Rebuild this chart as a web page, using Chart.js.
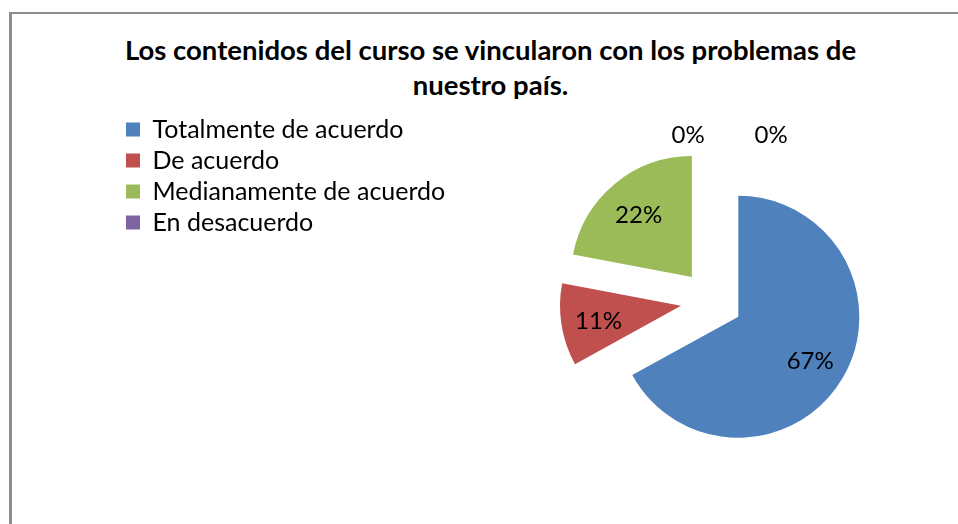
<!DOCTYPE html>
<html lang="es">
<head>
<meta charset="utf-8">
<title>Contenidos del curso</title>
<script src="https://cdn.jsdelivr.net/npm/chart.js@4.4.1/dist/chart.umd.min.js"></script>
<style>
  html, body { margin: 0; padding: 0; overflow: hidden; background: #fff; }
  body { width: 958px; height: 524px; position: relative; }
  /* marco gris del gráfico, cortado a la derecha y abajo */
  #marco {
    position: absolute; left: 9px; top: 12px; width: 1000px; height: 600px;
    border-left: 3px solid #8c8c8c; border-top: 2px solid #8c8c8c;
  }
  #titulo {
    position: absolute; left: 0; top: 32px; width: 981px;
    text-align: center; font: bold 27.5px Lato, sans-serif; line-height: 35px; color: #000;
  }
  #lienzo { position: absolute; left: 0; top: 0; }
</style>
</head>
<body>
<div id="marco"></div>
<div id="titulo">Los contenidos del curso se vincularon con los problemas de<br>nuestro país.</div>
<canvas id="lienzo" width="1010" height="524"></canvas>
<script>
"use strict";

const categorias = [
  "Totalmente de acuerdo",
  "De acuerdo",
  "Medianamente de acuerdo",
  "En desacuerdo",
  "Totalmente en desacuerdo",
];
const porcentajes = [67, 11, 22, 0, 0];
const colores = ["#4F81BD", "#C0504D", "#9BBB59", "#8064A2", "#4BACC6"];

// solo los cuatro primeros rubros salen en la leyenda
const enLeyenda = 4;

// cuánto se separa cada porción del centro (px)
const separacion = 31;

// Desplaza cada porción hacia afuera según su ángulo medio
const explotarPorciones = {
  id: "explotarPorciones",
  afterDatasetUpdate(chart, args) {
    args.meta.data.forEach((arco) => {
      const medio = (arco.startAngle + arco.endAngle) / 2;
      arco.x += Math.cos(medio) * separacion;
      arco.y += Math.sin(medio) * separacion;
    });
  },
};

// Porcentajes encima de cada porción
const etiquetas = {
  id: "etiquetas",
  afterDatasetsDraw(chart) {
    const ctx = chart.ctx;
    const meta = chart.getDatasetMeta(0);
    ctx.save();
    ctx.font = "24px Lato";
    ctx.fillStyle = "#000";
    ctx.textAlign = "center";
    ctx.textBaseline = "middle";
    let ceros = 0;
    meta.data.forEach((arco, i) => {
      const valor = porcentajes[i];
      const medio = (arco.startAngle + arco.endAngle) / 2;
      let x, y;
      if (valor > 0) {
        x = arco.x + Math.cos(medio) * arco.outerRadius * 0.69;
        y = arco.y + Math.sin(medio) * arco.outerRadius * 0.69 + 2;
      } else {
        // porciones vacías: la etiqueta va por fuera, una al lado de la otra
        const r = arco.outerRadius + 14;
        x = arco.x + Math.cos(medio) * r + 18 + (ceros - 0.5) * 83;
        y = arco.y + Math.sin(medio) * r;
        ceros++;
      }
      ctx.fillText(valor + "%", x, y);
    });
    ctx.restore();
  },
};

new Chart(document.getElementById("lienzo"), {
  type: "pie",
  data: {
    labels: categorias,
    datasets: [
      {
        data: porcentajes,
        backgroundColor: colores,
        borderWidth: 0,
        radius: 121,
      },
    ],
  },
  options: {
    responsive: false,
    animation: false,
    layout: { padding: { left: 120, top: 111, right: 42, bottom: 33 } },
    plugins: {
      legend: {
        position: "left",
        align: "start",
        labels: {
          boxWidth: 14,
          boxHeight: 14,
          padding: 6,
          color: "#000",
          font: { family: "Lato", size: 25 },
          filter: (item) => item.index < enLeyenda,
        },
      },
      tooltip: { enabled: false },
    },
  },
  plugins: [explotarPorciones, etiquetas],
});
</script>
</body>
</html>
